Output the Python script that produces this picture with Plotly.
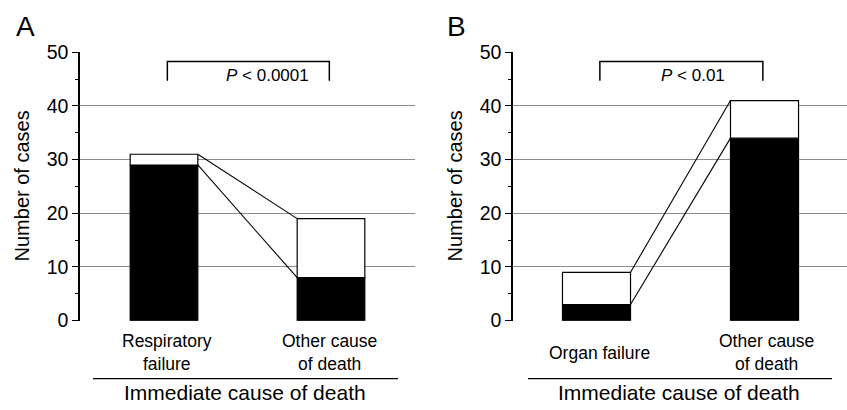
import plotly.graph_objects as go

# ---- data ----
a_categories = ["Respiratory<br>failure", "Other cause<br>of death"]
a_black = [29, 8]
a_total = [31, 19]
a_pvalue = "<i>P</i> < 0.0001"

b_categories = ["Organ failure", "Other cause<br>of death"]
b_black = [3, 34]
b_total = [9, 41]
b_pvalue = "<i>P</i> < 0.01"

y_ticks = [0, 10, 20, 30, 40, 50]
x_title = "Immediate cause of death"
y_title = "Number of cases"
panel_letters = ["A", "B"]

W, H = 847, 410
FONT = "Liberation Sans, Arial, sans-serif"
BW = 0.405
pos = [0, 1]

# the photographed page appears vertically as: image_y = OFF + SC * page_y
OFF, SC = 10.8, 0.945

fig = go.Figure()

def px_x(p):
    return p / W

def px_y(img_y):
    page = (img_y - OFF) / SC
    return (H - page) / H

panels = [
    dict(cats=a_categories, black=a_black, total=a_total, p=a_pvalue, xa="x", ya="y",
         dom=[80, 415], rng=[-0.503, 1.503], ptext_x=0.617, lab_x=[0.02, 0.99],
         sep=[93, 398], title_x=245, letter_x=25, ytitle_x=22),
    dict(cats=b_categories, black=b_black, total=b_total, p=b_pvalue, xa="x2", ya="y2",
         dom=[513, 847], rng=[-0.497, 1.491], ptext_x=0.574, lab_x=[0.015, 1.01],
         sep=[528, 832], title_x=679, letter_x=457, ytitle_x=455),
]

annotations = []
shapes = []
for i, pn in enumerate(panels):
    white = [t - b for t, b in zip(pn["total"], pn["black"])]
    fig.add_trace(go.Bar(x=pos, y=pn["black"], width=BW, xaxis=pn["xa"], yaxis=pn["ya"],
                         marker=dict(color="black", line=dict(color="black", width=1.2)),
                         showlegend=False, hoverinfo="skip"))
    fig.add_trace(go.Bar(x=pos, y=white, base=pn["black"], width=BW, xaxis=pn["xa"], yaxis=pn["ya"],
                         marker=dict(color="white", line=dict(color="black", width=1.2)),
                         showlegend=False, hoverinfo="skip"))
    for series in (pn["total"], pn["black"]):
        fig.add_trace(go.Scatter(x=[pos[0] + BW / 2, pos[1] - BW / 2], y=series,
                                 xaxis=pn["xa"], yaxis=pn["ya"], mode="lines",
                                 line=dict(color="black", width=1.1), showlegend=False,
                                 hoverinfo="skip"))
    # bracket
    shapes.append(dict(type="path", xref=pn["xa"], yref=pn["ya"],
                       path="M 0.02 44.7 L 0.02 48.3 L 0.99 48.3 L 0.99 44.7",
                       line=dict(color="black", width=1.5)))
    annotations.append(dict(x=pn["ptext_x"], y=45.6, xref=pn["xa"], yref=pn["ya"],
                            text=pn["p"], showarrow=False, xanchor="center", yanchor="middle",
                            font=dict(size=17, color="black", family=FONT)))
    for c, lx in zip(pn["cats"], pn["lab_x"]):
        annotations.append(dict(x=lx, y=px_y(352), xref=pn["xa"], yref="paper", text=c,
                                showarrow=False, xanchor="center", yanchor="middle",
                                font=dict(size=17.5, color="black", family=FONT)))
    shapes.append(dict(type="line", xref="paper", yref="paper",
                       x0=px_x(pn["sep"][0]), x1=px_x(pn["sep"][1]), y0=px_y(378), y1=px_y(378),
                       line=dict(color="black", width=1.2)))
    annotations.append(dict(x=px_x(pn["title_x"]), y=px_y(391.5), xref="paper", yref="paper",
                            text=x_title, showarrow=False, xanchor="center", yanchor="middle",
                            font=dict(size=21, color="black", family=FONT)))
    annotations.append(dict(x=px_x(pn["letter_x"]), y=px_y(26), xref="paper", yref="paper",
                            text=panel_letters[i], showarrow=False, xanchor="center", yanchor="middle",
                            font=dict(size=28, color="black", family=FONT)))
    annotations.append(dict(x=px_x(pn["ytitle_x"]), y=px_y(186), xref="paper", yref="paper",
                            text=y_title, showarrow=False, textangle=-90,
                            xanchor="center", yanchor="middle",
                            font=dict(size=20, color="black", family=FONT)))

xcommon = dict(showticklabels=False, showgrid=False, zeroline=False, showline=False, ticks="")
ycommon = dict(range=[0, 50], tickvals=y_ticks, showgrid=True, gridcolor="#8c8c8c", gridwidth=1,
               zeroline=False, showline=True, linecolor="black", linewidth=1.5,
               ticks="outside", ticklen=6, tickwidth=1.2, tickcolor="black",
               tickfont=dict(size=19.5, color="black", family=FONT),
               minor=dict(dtick=5, tick0=0, ticks="outside", ticklen=3, tickcolor="black", tickwidth=1.2, showgrid=False),
               domain=[px_y(320), px_y(52)])

fig.update_layout(
    width=W, height=H, margin=dict(l=0, r=0, t=0, b=0),
    paper_bgcolor="white", plot_bgcolor="white", barmode="overlay",
    xaxis=dict(domain=[px_x(80), px_x(415)], range=panels[0]["rng"], anchor="y", **xcommon),
    yaxis=dict(anchor="x", **ycommon),
    xaxis2=dict(domain=[px_x(513), px_x(847)], range=panels[1]["rng"], anchor="y2", **xcommon),
    yaxis2=dict(anchor="x2", **ycommon),
    annotations=annotations, shapes=shapes,
)

fig.write_html("out.html", config={"displayModeBar": False},
               post_script="document.body.style.margin='0';document.body.style.overflow='hidden';")
